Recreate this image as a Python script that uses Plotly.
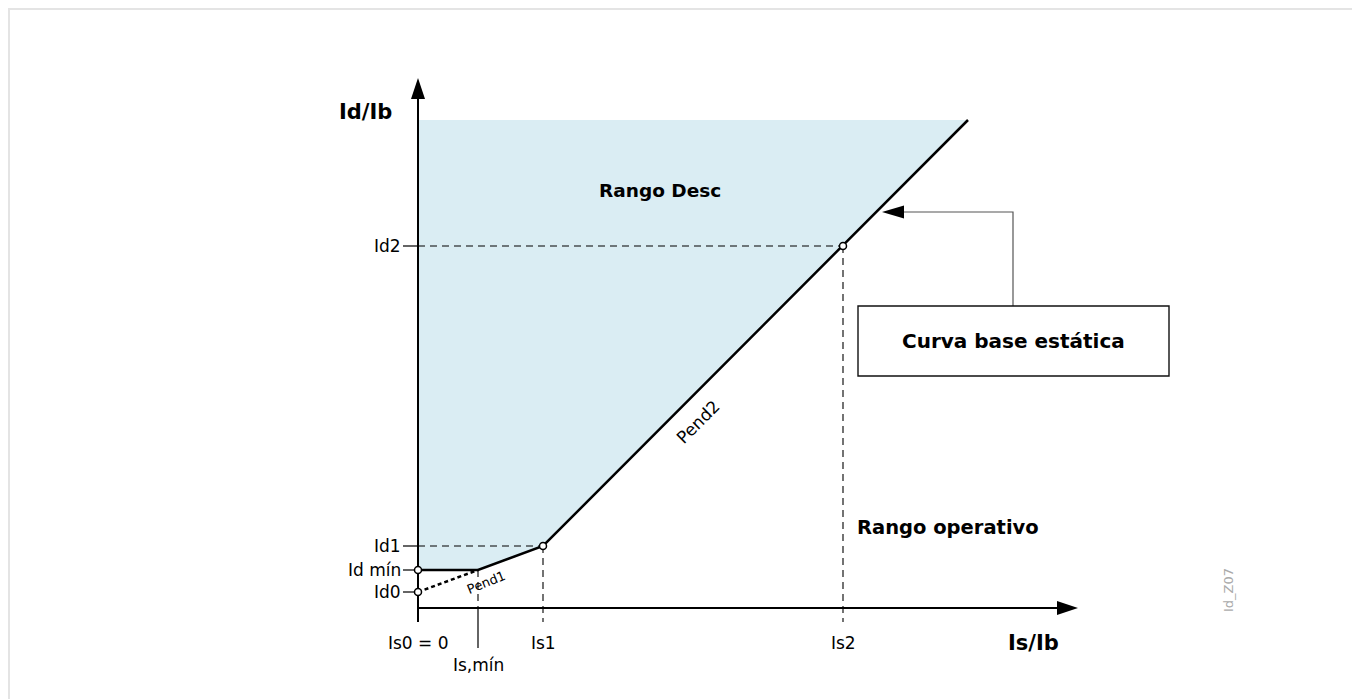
import plotly.graph_objects as go

# Characteristic points (Is/Ib on x, Id/Ib on y)
is_names = ['Is0 = 0', 'Is,mín', 'Is1', 'Is2']
is_vals = [0.0, 0.60, 1.25, 4.25]
id_names = ['Id0', 'Id mín', 'Id1', 'Id2']
id_vals = [0.16, 0.38, 0.62, 3.62]
is_end = 5.50
id_top = 4.88

# static base curve: Id mín plateau -> Pend1 -> Pend2
curve_x = [0.0, is_vals[1], is_vals[2], is_end]
curve_y = [id_vals[1], id_vals[1], id_vals[2], id_top]
# extension of Pend1 back to Id0
pend1_x = [0.0, is_vals[1]]
pend1_y = [id_vals[0], id_vals[1]]

FONT = 'DejaVu Sans'
PX = 100.0  # pixels per unit on both axes
W, H = 1352, 691
fig = go.Figure()

# trip region
fig.add_trace(go.Scatter(x=[0.0, is_end, is_vals[2], is_vals[1], 0.0],
                         y=[id_top, id_top, id_vals[2], id_vals[1], id_vals[1]],
                         fill='toself', fillcolor='#daedf3', line=dict(width=0),
                         mode='lines', hoverinfo='skip'))

# dashed helper lines
dash = dict(color='#000', width=1.1, dash='7px,5px')
fig.add_trace(go.Scatter(x=[0, is_vals[2]], y=[id_vals[2], id_vals[2]], mode='lines', line=dash))
fig.add_trace(go.Scatter(x=[0, is_vals[3]], y=[id_vals[3], id_vals[3]], mode='lines', line=dash))
fig.add_trace(go.Scatter(x=[is_vals[2], is_vals[2]], y=[id_vals[2], -0.14], mode='lines', line=dash))
fig.add_trace(go.Scatter(x=[is_vals[3], is_vals[3]], y=[id_vals[3], -0.14], mode='lines', line=dash))
fig.add_trace(go.Scatter(x=[is_vals[1], is_vals[1]], y=[id_vals[1], 0], mode='lines', line=dash))
fig.add_trace(go.Scatter(x=[is_vals[1], is_vals[1]], y=[0, -0.40], mode='lines',
                         line=dict(color='#111', width=1.3)))

# y ticks
for v in id_vals:
    fig.add_trace(go.Scatter(x=[-0.15, 0], y=[v, v], mode='lines', line=dict(color='#111', width=1.3)))

# axes
fig.add_trace(go.Scatter(x=[0, 0], y=[-0.14, 5.20], mode='lines', line=dict(color='black', width=2)))
fig.add_trace(go.Scatter(x=[0, 6.45], y=[0, 0], mode='lines', line=dict(color='black', width=2)))


def tri(tip_x, tip_y, dx, dy, length=21, width=14, color='black'):
    # arrowhead triangle pointing in direction (dx, dy)
    L, Wd = length / PX, width / PX / 2
    bx, by = tip_x - dx * L, tip_y - dy * L
    px_, py_ = -dy * Wd, dx * Wd
    fig.add_trace(go.Scatter(x=[tip_x, bx + px_, bx - px_, tip_x], y=[tip_y, by + py_, by - py_, tip_y],
                             fill='toself', fillcolor=color, line=dict(width=0, color=color),
                             mode='lines', hoverinfo='skip'))


tri(0, 5.30, 0, 1)
tri(6.60, 0, 1, 0)

# curve
fig.add_trace(go.Scatter(x=pend1_x, y=pend1_y, mode='lines',
                         line=dict(color='black', width=2.5, dash='4px,3px')))
fig.add_trace(go.Scatter(x=curve_x, y=curve_y, mode='lines', line=dict(color='black', width=2.5)))

# open points
fig.add_trace(go.Scatter(x=[0, 0, is_vals[2], is_vals[3]], y=[id_vals[0], id_vals[1], id_vals[2], id_vals[3]],
                         mode='markers', marker=dict(size=7, color='white', line=dict(color='black', width=1.5))))

# call-out box
box_x0, box_x1, box_y0, box_y1 = 4.40, 7.51, 2.32, 3.02
lead_x, lead_y, lead_tip = 5.95, 3.96, 4.64
fig.add_shape(type='rect', x0=box_x0, x1=box_x1, y0=box_y0, y1=box_y1,
              line=dict(color='#111', width=1.4), fillcolor='white')
fig.add_trace(go.Scatter(x=[lead_x, lead_x, lead_tip + 0.2], y=[box_y1, lead_y, lead_y], mode='lines',
                         line=dict(color='#555', width=1.2)))
tri(lead_tip, lead_y, -1, 0, length=22, width=13)

ann = []
ann.append(dict(x=(box_x0 + box_x1) / 2, y=(box_y0 + box_y1) / 2, text='<b>Curva base estática</b>',
                font=dict(size=20)))
ann.append(dict(x=2.42, y=4.18, text='<b>Rango Desc</b>', font=dict(size=18.5)))
ann.append(dict(x=4.37, y=0.81, text='<b>Rango operativo</b>', font=dict(size=19.5), xanchor='left'))
ann.append(dict(x=-0.53, y=4.96, text='<b>Id/Ib</b>', font=dict(size=21)))
ann.append(dict(x=6.15, y=-0.35, text='<b>Is/Ib</b>', font=dict(size=21)))
for n, v in zip(id_names, id_vals):
    ann.append(dict(x=-0.15, y=v, text=n, xanchor='right', font=dict(size=17)))
for n, v in zip(is_names, is_vals):
    ann.append(dict(x=v, y=-0.57 if n == 'Is,mín' else -0.35, text=n, font=dict(size=17)))
ann.append(dict(x=2.80, y=1.86, text='Pend2', textangle=-45, font=dict(size=17)))
ann.append(dict(x=0.68, y=0.26, text='Pend1', textangle=-22, font=dict(size=13)))
ann.append(dict(x=8.10, y=0.18, text='Id_Z07', textangle=-90, font=dict(size=13, color='#aaa')))
for a in ann:
    a.setdefault('showarrow', False)
    a['font'] = dict(family=FONT, color=a['font'].get('color', 'black'), size=a['font']['size'])
fig.update_layout(annotations=ann)

# page frame
fig.add_shape(type='rect', xref='paper', yref='paper', x0=1 / W, x1=1.05, y0=-0.05, y1=1 - 1 / H,
              line=dict(color='#e4e4e4', width=2), layer='below')

# page is offset 8px by the body margin, so the origin sits at pixel (410, 600) of the figure
fig.update_layout(width=W, height=H, margin=dict(l=0, r=0, t=0, b=0),
                  showlegend=False, plot_bgcolor='white', paper_bgcolor='white',
                  xaxis=dict(range=[-4.10, W / PX - 4.10], visible=False, fixedrange=True),
                  yaxis=dict(range=[6.00 - H / PX, 6.00], visible=False, fixedrange=True),
                  font=dict(family=FONT))
fig.write_html("out.html")
